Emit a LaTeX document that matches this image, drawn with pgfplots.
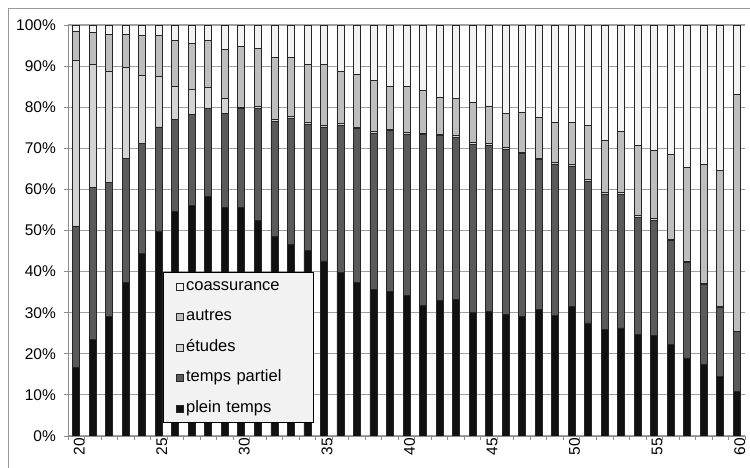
\documentclass[border=0pt]{standalone}
\usepackage{pgfplots}
\pgfplotsset{compat=1.18}
\usepackage{pgfplotstable}
\usepackage{fontspec}
\setmainfont{Liberation Sans}

\definecolor{cplein}{HTML}{111111}
\definecolor{cpartiel}{HTML}{5A5A5A}
\definecolor{cetudes}{HTML}{D4D4D4}
\definecolor{cautres}{HTML}{BEBEBE}
\definecolor{ccoass}{HTML}{F2F2F2}
\definecolor{cgrid}{HTML}{A0A0A0}

\pgfplotstableread{
age plein partiel etudes autres coass
20 16.7 34.4 40.4 7.0 1.5
21 23.5 37.0 29.8 7.8 1.9
22 29.0 32.6 27.0 9.2 2.2
23 37.4 30.1 22.2 8.1 2.2
24 44.4 26.8 16.5 9.7 2.6
25 49.9 25.3 12.2 10.0 2.6
26 54.7 22.4 8.0 11.2 3.7
27 56.2 22.0 6.1 11.2 4.5
28 58.4 21.3 5.1 11.5 3.7
29 55.5 23.0 3.6 12.0 5.9
30 55.5 24.1 0.4 14.7 5.3
31 52.5 27.3 0.4 14.0 5.8
32 48.5 28.1 0.4 15.1 7.9
33 46.6 30.6 0.6 14.3 7.9
34 45.2 30.7 0.5 14.0 9.6
35 42.6 32.6 0.4 14.8 9.6
36 39.7 35.9 0.4 12.6 11.4
37 37.4 37.4 0.4 12.9 11.9
38 35.6 38.0 0.4 12.4 13.6
39 35.2 39.1 0.4 10.4 14.9
40 34.2 39.3 0.4 11.2 14.9
41 31.8 41.5 0.4 10.3 16.0
42 32.9 40.2 0.4 9.0 17.5
43 33.3 39.4 0.4 9.0 17.9
44 30.0 41.0 0.4 9.7 18.9
45 30.4 40.3 0.4 9.2 19.7
46 29.6 40.1 0.4 8.4 21.5
47 29.0 39.7 0.4 9.7 21.2
48 30.8 36.4 0.4 9.8 22.6
49 29.3 36.9 0.4 9.8 23.6
50 31.6 34.1 0.4 10.3 23.6
51 27.5 34.5 0.4 13.2 24.4
52 25.9 33.0 0.4 12.5 28.2
53 26.3 32.5 0.4 14.9 25.9
54 24.8 28.4 0.4 17.2 29.2
55 24.5 28.0 0.4 16.7 30.4
56 22.3 25.2 0.4 20.7 31.4
57 19.0 23.3 0.3 22.7 34.7
58 17.5 19.3 0.4 28.8 34.0
59 14.5 16.7 0.3 33.0 35.5
60 10.9 14.5 0.0 57.6 17.0
}\data

\pgfplotsset{
  mybar/.style={fill=#1, draw=black!85, line width=0.8pt,
    legend image code/.code={\draw[##1, line width=0.7pt] (0pt,-3.5pt) rectangle (7pt,3.5pt);}},
}

\begin{document}
\begin{tikzpicture}[x=1pt,y=1pt]
\path[use as bounding box] (0,0) rectangle (750,468);
\draw[gray!80, line width=1pt] (8.5,0) -- (8.5,459.5) -- (750,459.5);
\begin{axis}[
  at={(68pt,32pt)}, anchor=south west,
  scale only axis, width=677pt, height=411pt,
  ybar stacked, bar width=7pt,
  xmin=19.5, xmax=60.5, ymin=0, ymax=100,
  axis x line*=bottom, axis y line*=left,
  axis line style={gray!90, line width=0.9pt},
  xtick={19.5,20.5,...,60.5}, xticklabels={},
  extra x ticks={20,25,30,35,40,45,50,55,60},
  extra x tick labels={20,25,30,35,40,45,50,55,60},
  extra x tick style={major tick length=0pt,
    xticklabel style={rotate=90, anchor=east, yshift=-3pt}},
  ytick={0,10,...,100},
  yticklabel={\pgfmathprintnumber{\tick}\%},
  /pgf/number format/assume math mode=true,
  ymajorgrids, grid style={cgrid, line width=1.1pt},
  tick align=outside, major tick length=4pt,
  tick style={gray!90, line width=0.8pt},
  ticklabel style={font=\fontsize{15.5}{18}\selectfont},
  xticklabel style={inner sep=2pt},
  yticklabel style={inner sep=2pt, xshift=-6pt},
  reverse legend,
  legend style={at={(0.1403,0.399)}, anchor=north west,
    draw=black, line width=0.8pt, fill=ccoass,
    font=\fontsize{16.5}{19}\selectfont,
    inner xsep=13pt, inner ysep=6pt, row sep=14.5pt,
    nodes={text height=12pt, text depth=4pt, inner ysep=0pt},
    /tikz/every even column/.append style={text width=112pt, inner xsep=3pt}},
  legend cell align=left,
]
\addplot[mybar=cplein] table[x=age, y=plein] {\data};
\addlegendentry{plein temps}
\addplot[mybar=cpartiel] table[x=age, y=partiel] {\data};
\addlegendentry{temps partiel}
\addplot[mybar=cetudes] table[x=age, y=etudes] {\data};
\addlegendentry{études}
\addplot[mybar=cautres] table[x=age, y=autres] {\data};
\addlegendentry{autres}
\addplot[mybar=ccoass] table[x=age, y=coass] {\data};
\addlegendentry{coassurance}
\end{axis}
\end{tikzpicture}
\end{document}
